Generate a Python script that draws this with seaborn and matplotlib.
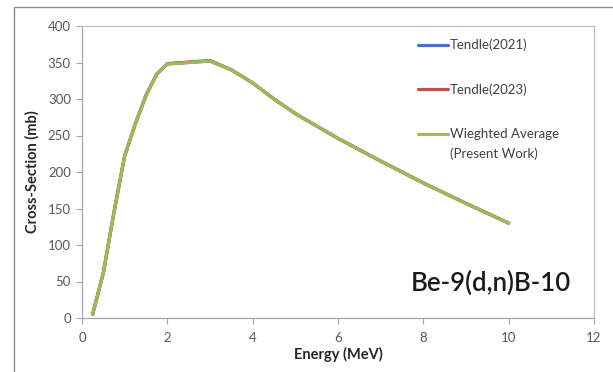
import matplotlib
matplotlib.use("Agg")
import matplotlib.pyplot as plt
import seaborn as sns
import pandas as pd
from matplotlib.patches import Rectangle

energy = [0.25, 0.5, 0.75, 1.0, 1.25, 1.5, 1.75, 2.0, 2.5, 3.0, 3.5, 4.0, 4.5, 5.0, 6.0, 7.0, 8.0, 9.0, 10.0]
tendle_2021 = [5, 62, 145, 222, 266, 305, 334, 348, 350, 352, 340, 322, 300, 280, 246, 215, 185, 157, 130]
tendle_2023 = [5, 62, 145, 222, 266, 305, 334, 348.5, 350.7, 352.7, 340, 322, 300, 280, 246, 215, 185, 157, 130]
weighted_avg = [5, 62, 145, 222, 266, 305, 334, 348, 350, 352, 340, 322, 300, 280, 246, 215, 185, 157, 130]
series_names = ["Tendle(2021)", "Tendle(2023)", "Wieghted Average"]
extra_label = "(Present Work)"

rows = []
for name, vals in zip(series_names, [tendle_2021, tendle_2023, weighted_avg]):
    for e, v in zip(energy, vals):
        rows.append({"Energy": e, "CS": v, "Series": name})
df = pd.DataFrame(rows)

sns.set_theme(style="white")
plt.rcParams['font.family'] = ['Lato', 'DejaVu Sans']

fig = plt.figure(figsize=(6.13, 3.72), dpi=100)
ax = fig.add_axes([82/613, 1-318/372, (594-82)/613, (318-26)/372])

palette = {series_names[0]: "#4472C4", series_names[1]: "#C0504D", series_names[2]: "#9BBB59"}
sns.lineplot(data=df, x="Energy", y="CS", hue="Series", palette=palette,
             linewidth=2.3, ax=ax, sort=False, estimator=None)

ax.set_xlim(0, 12)
ax.set_ylim(0, 400)
ax.set_xticks(range(0, 13, 2))
ax.set_yticks(range(0, 401, 50))
ax.tick_params(axis='both', which='both', length=4, width=0.8, color="#a6a6a6",
               labelsize=9.5, labelcolor="#595959", direction='out', pad=4)
ax.tick_params(axis='x', pad=6)
ax.tick_params(left=True, bottom=True)
for s in ax.spines.values():
    s.set_color("#bfbfbf")
    s.set_linewidth(0.9)
ax.spines['left'].set_color("#a6a6a6")
ax.spines['bottom'].set_color("#a6a6a6")

ax.set_xlabel("Energy (MeV)", fontsize=10.5, fontweight='bold', color="#262626", labelpad=2)
ax.set_ylabel("Cross-Section (mb)", fontsize=10.5, fontweight='bold', color="#262626", labelpad=6)

leg = ax.legend(loc='upper left', bbox_to_anchor=(0.645, 0.975), frameon=False,
                fontsize=9.5, handlelength=2.3, handletextpad=0.15, labelspacing=2.45,
                borderaxespad=0.0)
for t in leg.get_texts():
    t.set_color("#404040")

fig.canvas.draw()
last = leg.get_texts()[-1]
bb = last.get_window_extent(renderer=fig.canvas.get_renderer())
inv = fig.transFigure.inverted()
x0, y0 = inv.transform((bb.x0, bb.y0 - 7))
fig.text(x0, y0, extra_label, ha='left', va='top', fontsize=9.5, color="#404040")

ax.text(0.955, 0.12, "Be-9(d,n)B-10", transform=ax.transAxes, ha='right', va='center',
        fontsize=18.5, fontweight='semibold', color="#1a1a1a")

fig.patches.append(Rectangle((14/613, -0.5), 2.0, 1.5 - 7/372, transform=fig.transFigure,
                             fill=False, edgecolor="#8c8c8c", linewidth=1.0))

fig.savefig("out.png", dpi=100)
